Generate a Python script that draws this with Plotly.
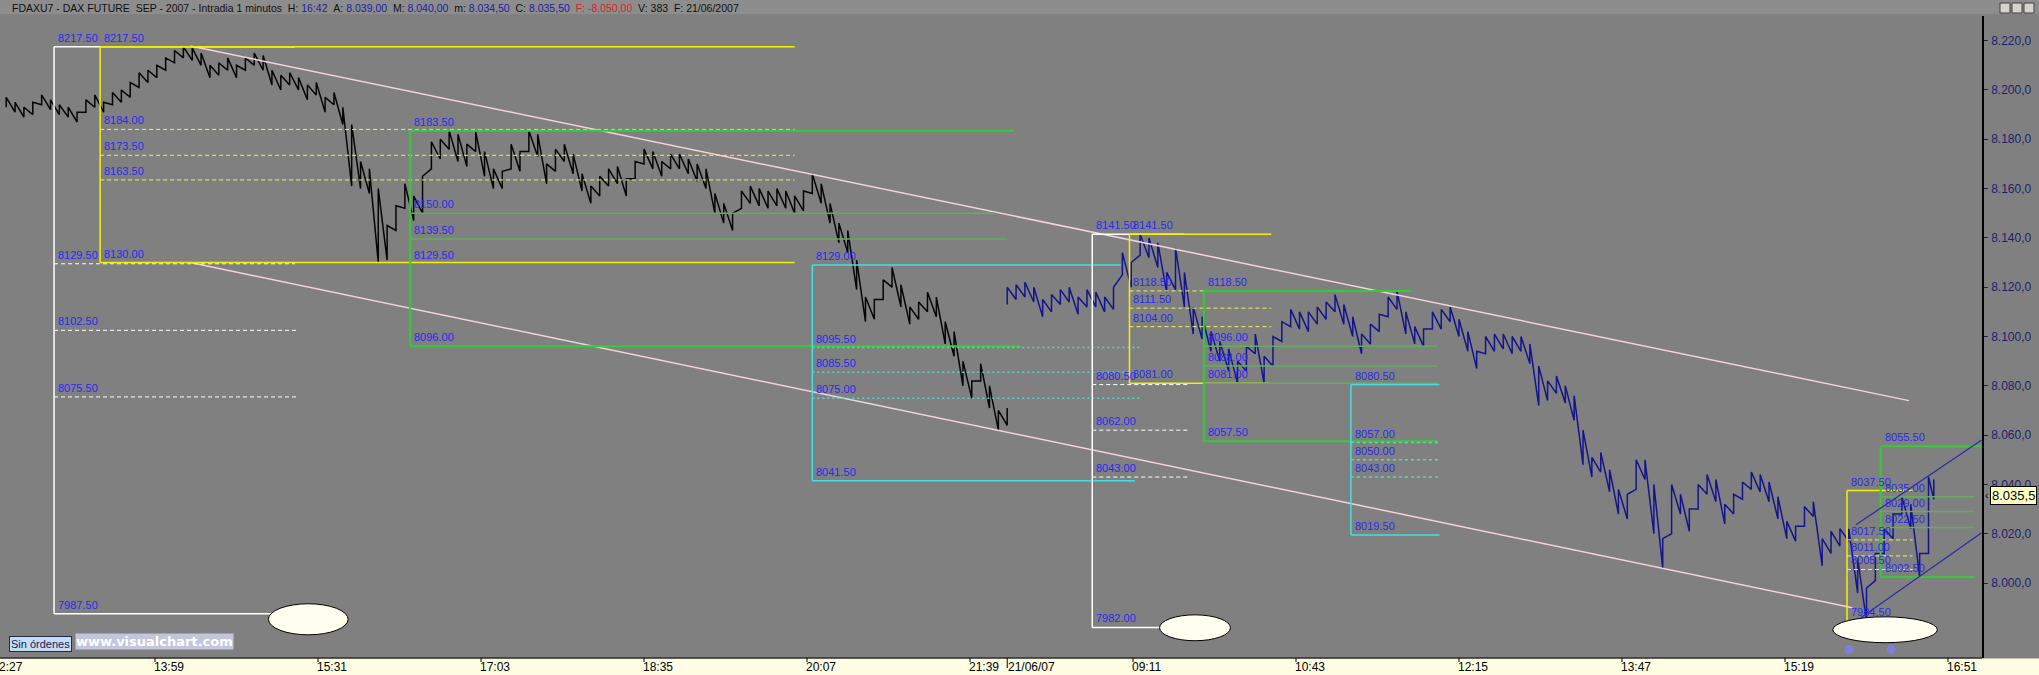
import plotly.graph_objects as go

# ---------------- data ----------------
# Day 1 (20/06/07) five-minute bars from 12:35 to 22:00
D1_LOW = [8193, 8191, 8189, 8190, 8194,
          8192, 8190, 8189, 8187, 8191, 8193, 8191, 8194, 8195, 8197, 8201, 8203,
          8205, 8208, 8211, 8213, 8212, 8210, 8205, 8206, 8208, 8205, 8208, 8210,
          8208, 8202, 8200, 8202, 8200, 8196, 8198, 8191, 8194, 8186, 8161, 8160,
          8158, 8130, 8131, 8143, 8152, 8147, 8150, 8168, 8172, 8176, 8171, 8169,
          8175, 8165, 8160, 8160, 8168, 8167, 8175, 8173, 8162, 8167, 8171, 8166,
          8159, 8154, 8157, 8161, 8162, 8157, 8164, 8170, 8168, 8165, 8168, 8168,
          8166, 8163, 8160, 8150, 8146, 8143, 8152, 8154, 8153, 8152, 8153, 8152,
          8150, 8151, 8158, 8154, 8146, 8138, 8134, 8119, 8106, 8107, 8115, 8120,
          8112, 8105, 8107, 8110, 8108, 8097, 8092, 8080, 8075, 8082, 8071, 8062,
          8064]
D1_HIGH = [8197, 8195, 8193, 8195, 8198,
           8196, 8194, 8193, 8191, 8196, 8198, 8195, 8199, 8200, 8203, 8207, 8208,
           8210, 8213, 8216, 8217.5, 8217, 8215, 8210, 8211, 8213, 8210, 8213, 8215,
           8214, 8208, 8206, 8207, 8205, 8202, 8203, 8197, 8199, 8193, 8186, 8171,
           8168, 8160, 8145, 8153, 8162, 8157, 8165, 8179, 8180, 8183.5, 8182, 8178,
           8183, 8175, 8168, 8167, 8178, 8175, 8183.5, 8182, 8170, 8176, 8178, 8174,
           8166, 8161, 8165, 8168, 8169, 8164, 8171, 8176, 8175, 8171, 8174, 8174,
           8172, 8170, 8168, 8158, 8154, 8150, 8159, 8161, 8160, 8159, 8160, 8159,
           8157, 8159, 8166, 8162, 8154, 8146, 8143, 8131, 8116, 8115, 8123, 8128,
           8121, 8112, 8114, 8118, 8116, 8106, 8102, 8090, 8082, 8089, 8080, 8070,
           8071]

# Day 2 (21/06/07) five-minute bars from 08:00 to 16:43
D2_LOW = [8113, 8115, 8116, 8114, 8108, 8110, 8113, 8114, 8109, 8112, 8112, 8110,
          8111, 8125, 8120, 8133, 8132, 8128, 8118, 8119, 8112, 8101, 8099, 8094,
          8090, 8086, 8081, 8086, 8093, 8081, 8088, 8098, 8104, 8103, 8102, 8105,
          8107, 8110, 8105, 8100, 8093, 8097, 8102, 8108, 8111, 8101, 8097, 8096,
          8103, 8103, 8106, 8100, 8094, 8087, 8093, 8094, 8095, 8093, 8094, 8089,
          8072, 8074, 8077, 8073, 8066, 8048, 8043, 8045, 8037, 8028, 8026, 8038,
          8042, 8020, 8006, 8020, 8028, 8021, 8030, 8036, 8033, 8024, 8028, 8034,
          8038, 8037, 8033, 8026, 8018, 8017, 8023, 8027, 8007, 8012, 8015, 8017,
          7996, 7984.5, 8001, 8012, 8018, 8028, 8022, 8002.5, 8012,
          8034]
D2_HIGH = [8120, 8121, 8122, 8120, 8115, 8117, 8119, 8120, 8116, 8119, 8118, 8116,
           8120, 8134, 8130, 8141.5, 8140, 8138, 8126, 8136, 8126, 8112, 8108, 8102,
           8098, 8095, 8090, 8096, 8101, 8092, 8100, 8106, 8111, 8110, 8110, 8112,
           8114, 8117, 8113, 8108, 8101, 8105, 8109, 8116, 8118.5, 8110, 8104, 8103,
           8110, 8111, 8112, 8107, 8102, 8094, 8100, 8101, 8101, 8100, 8100, 8097,
           8088, 8082, 8084, 8080, 8076, 8062, 8051, 8053, 8046, 8038, 8036, 8050,
           8050, 8040, 8018, 8040, 8036, 8030, 8040, 8044, 8042, 8032, 8036, 8041,
           8045, 8044, 8041, 8035, 8025, 8023, 8031, 8033, 8018, 8021, 8022, 8022,
           8010, 7998, 8012, 8022, 8028, 8035, 8032, 8012, 8043,
           8042]

X_TICK_LABELS = ["13:59", "15:31", "17:03", "18:35", "20:07", "21:39",
                 "09:11", "10:43", "12:15", "13:47", "15:19", "16:51"]
X_TICK_DAYS = [1, 1, 1, 1, 1, 1, 2, 2, 2, 2, 2, 2]
Y_TICKS = [8000, 8020, 8040, 8060, 8080, 8100, 8120, 8140, 8160, 8180, 8200, 8220]
Y_TICK_TEXT = ["8.000,0", "8.020,0", "8.040,0", "8.060,0", "8.080,0", "8.100,0",
               "8.120,0", "8.140,0", "8.160,0", "8.180,0", "8.200,0", "8.220,0"]
LAST_PRICE = 8035.5

# Level groups: (day, start time), levels, level end times
WB1_START = (1, "13:02"); WB1_LEVELS = [8217.5, 8129.5, 8102.5, 8075.5, 7987.5]
WB1_ENDS = [(1, "15:18"), (1, "15:18"), (1, "15:20"), (1, "15:20"), (1, "15:05")]
YB1_START = (1, "13:28"); YB1_LEVELS = [8217.5, 8184.0, 8173.5, 8163.5, 8130.0]
YB1_ENDS = [(1, "20:00")] * 5
GB1_START = (1, "16:23"); GB1_LEVELS = [8183.5, 8150.0, 8139.5, 8129.5, 8096.0]
GB1_ENDS = [(2, "08:04"), (1, "21:53"), (2, "08:00"), None, (2, "08:08")]
CB1_START = (1, "20:10"); CB1_LEVELS = [8129.0, 8095.5, 8085.5, 8075.0, 8041.5]
CB1_ENDS = [(2, "09:04"), (2, "09:15"), (2, "09:15"), (2, "09:15"), (2, "09:12")]
WB2_START = (2, "08:48"); WB2_LEVELS = [8141.5, 8080.5, 8062.0, 8043.0, 7982.0]
WB2_ENDS = [(2, "09:40"), (2, "09:43"), (2, "09:43"), (2, "09:43"), (2, "09:27")]
YB2_START = (2, "09:09"); YB2_LEVELS = [8141.5, 8118.5, 8111.5, 8104.0, 8081.0]
YB2_ENDS = [(2, "10:29")] * 4 + [(2, "10:28")]
GB2_START = (2, "09:51"); GB2_LEVELS = [8118.5, 8096.0, 8088.0, 8081.0, 8057.5]
GB2_ENDS = [(2, "11:48"), (2, "12:03"), (2, "12:03"), (2, "12:03"), (2, "12:03")]
CB2_START = (2, "11:14"); CB2_LEVELS = [8080.5, 8057.0, 8050.0, 8043.0, 8019.5]
CB2_ENDS = [(2, "12:04")] * 5
YB3_START = (2, "15:54"); YB3_LEVELS = [8037.5, 8017.5, 8011.0, 8005.5, 7984.5]
YB3_ENDS = [(2, "16:31")] * 5
GB3_START = (2, "16:13"); GB3_LEVELS = [8055.5, 8035.0, 8029.0, 8022.5, 8002.5]
GB3_ENDS = [(2, "17:10"), (2, "17:06"), (2, "17:06"), (2, "17:06"), (2, "17:06")]

# channel lines: (day, time, price) pairs
CHANNEL_UP = [(1, "14:19", 8217.8), (2, "16:29", 8074.0)]
CHANNEL_DN = [(1, "14:19", 8130.0), (2, "15:57", 7990.0)]
BLUE_UP = [(2, "15:59", 8023.6), (2, "17:10", 8058.0)]
BLUE_DN = [(2, "16:02", 7986.0), (2, "17:10", 8020.4)]
# ellipses: (day, t0, t1, p0, p1)
ELLIPSES = [(1, "15:03", "15:48", 7979.0, 7991.6),
            (2, "09:26", "10:06", 7976.6, 7987.1),
            (2, "15:46", "16:45", 7975.8, 7986.3)]

# ---------------- helpers ----------------
def tindex(day, hhmm):
    h, m = map(int, hhmm.split(":"))
    t = h * 60 + m
    return t - (13 * 60 + 59) if day == 1 else 481 + t - 8 * 60

def times(start, end, step=5):
    h0, m0 = map(int, start.split(":")); h1, m1 = map(int, end.split(":"))
    out = []
    t = h0 * 60 + m0
    while t <= h1 * 60 + m1:
        out.append("%02d:%02d" % (t // 60, t % 60)); t += step
    return out

D1_TIMES = times("12:35", "22:00")
D2_TIMES = times("08:00", "16:40") + ["16:43"]

W, H = 2039, 675
PL, PR, PT, PB = 0, 1982, 16, 658
PW, PH = PR - PL, PB - PT
def px(x):  # pixel -> paper
    return (x - PL) / PW
def py(y):
    return (PB - y) / PH

XMIN, XMAX = -87.5, 1031.2
YMIN, YMAX = 7969.6, 8230.0

fig = go.Figure()

def add_bars(day, tlist, lows, highs, color):
    xs, ys = [], []
    for t, lo, hi in zip(tlist, lows, highs):
        x = tindex(day, t)
        xs += [x, x]; ys += [lo, hi]
    fig.add_trace(go.Scatter(x=xs, y=ys, mode="lines", line=dict(color=color, width=1.5),
                             hoverinfo="skip", showlegend=False))

shapes = []
annots = []

def hline(p, start, end, color, width=1.5, dash="solid"):
    shapes.append(dict(type="line", xref="x", yref="y", x0=tindex(*start), x1=tindex(*end),
                       y0=p, y1=p, line=dict(color=color, width=width, dash=dash)))

def vline(start, p0, p1, color, width=1.5):
    x = tindex(*start)
    shapes.append(dict(type="line", xref="x", yref="y", x0=x, x1=x, y0=p0, y1=p1,
                       line=dict(color=color, width=width)))

LABEL_BLUE = "#2a2af2"
def label(start, p):
    annots.append(dict(x=tindex(*start), y=p, xref="x", yref="y", text="%.2f" % p,
                       showarrow=False, xanchor="left", yanchor="bottom", xshift=2, yshift=1,
                       font=dict(family="Liberation Sans, Arial", size=11, color=LABEL_BLUE)))

def group(start, levels, ends, color, mid_style, mid_color=None, mid_width=1, edge_width=1.5):
    vline(start, levels[0], levels[-1], color, edge_width)
    for i, (p, e) in enumerate(zip(levels, ends)):
        if e is not None:
            if i in (0, len(levels) - 1):
                hline(p, start, e, color, edge_width)
            else:
                hline(p, start, e, mid_color or color, mid_width, mid_style)
        label(start, p)

WHITE, YELLOW, GREEN, CYAN = "#ffffff", "#f2f200", "#33cc33", "#3fe0e6"
FAINT_GREEN = "#62ad62"

for seg in (CHANNEL_UP, CHANNEL_DN):
    (d0, t0, p0), (d1, t1, p1) = seg
    shapes.append(dict(type="line", xref="x", yref="y", x0=tindex(d0, t0), x1=tindex(d1, t1),
                       y0=p0, y1=p1, line=dict(color="#f3d3da", width=1.5)))

group(WB1_START, WB1_LEVELS, WB1_ENDS, WHITE, "4px,3px")
group(YB1_START, YB1_LEVELS, YB1_ENDS, YELLOW, "4px,3px", mid_color="#f0f060")
group(GB1_START, GB1_LEVELS, GB1_ENDS, GREEN, "solid", mid_color=FAINT_GREEN, mid_width=1.5, edge_width=2)
group(CB1_START, CB1_LEVELS, CB1_ENDS, CYAN, "2px,3px", mid_color="#55d8c4", mid_width=1.5)
group(WB2_START, WB2_LEVELS, WB2_ENDS, WHITE, "4px,3px")
group(YB2_START, YB2_LEVELS, YB2_ENDS, YELLOW, "4px,3px", mid_color="#f0f060")
group(GB2_START, GB2_LEVELS, GB2_ENDS, GREEN, "solid", mid_color=FAINT_GREEN, mid_width=1.5, edge_width=2)
group(CB2_START, CB2_LEVELS, CB2_ENDS, CYAN, "3px,3px", mid_color="#55d8c4", mid_width=1.5)
group(YB3_START, YB3_LEVELS, YB3_ENDS, YELLOW, "4px,3px", mid_color="#f0f060")
group(GB3_START, GB3_LEVELS, GB3_ENDS, GREEN, "solid", mid_color=FAINT_GREEN, mid_width=1.5, edge_width=2)

for seg in (BLUE_UP, BLUE_DN):
    (d0, t0, p0), (d1, t1, p1) = seg
    shapes.append(dict(type="line", xref="x", yref="y", x0=tindex(d0, t0), x1=tindex(d1, t1),
                       y0=p0, y1=p1, line=dict(color="#2a2aa8", width=1.2), layer="above"))

for d, t0, t1, p0, p1 in ELLIPSES:
    shapes.append(dict(type="circle", xref="x", yref="y", x0=tindex(d, t0), x1=tindex(d, t1),
                       y0=p0, y1=p1, fillcolor="#fffff0", line=dict(color="black", width=1),
                       layer="above"))

add_bars(1, D1_TIMES, D1_LOW, D1_HIGH, "#050505")
add_bars(2, D2_TIMES, D2_LOW, D2_HIGH, "#14148c")

fig.add_trace(go.Scatter(x=[tindex(2, "15:55"), tindex(2, "16:19")], y=[7973, 7973], mode="markers",
                         marker=dict(size=9, color="rgba(125,125,255,0.75)", line=dict(width=0)),
                         hoverinfo="skip", showlegend=False))

# ---------- chrome: title bar, x strip, ticks ----------
shapes.append(dict(type="rect", xref="paper", yref="paper", x0=px(0), x1=px(W), y0=py(PT), y1=py(0),
                   fillcolor="#8d8d8d", line=dict(width=0), layer="above"))
shapes.append(dict(type="line", xref="paper", yref="paper", x0=px(0), x1=px(W), y0=py(15), y1=py(15),
                   line=dict(color="#747474", width=1), layer="above"))
shapes.append(dict(type="rect", xref="paper", yref="paper", x0=px(0), x1=px(W), y0=py(H + 2), y1=py(658.6),
                   fillcolor="#fffee2", line=dict(width=0), layer="above"))
shapes.append(dict(type="line", xref="paper", yref="paper", x0=px(0), x1=px(PR), y0=0, y1=0,
                   line=dict(color="black", width=1.2), layer="above"))
for lab, d in zip(X_TICK_LABELS, X_TICK_DAYS):
    xt = tindex(d, lab)
    shapes.append(dict(type="line", xref="x", yref="paper", x0=xt, x1=xt, y0=0, y1=py(662),
                       line=dict(color="black", width=1), layer="above"))
shapes.append(dict(type="line", xref="x", yref="paper", x0=481, x1=481, y0=0, y1=py(668),
                   line=dict(color="black", width=1), layer="above"))
for bx in (2000, 2012, 2024):
    shapes.append(dict(type="rect", xref="paper", yref="paper", x0=px(bx), x1=px(bx + 10),
                       y0=py(13), y1=py(3), fillcolor="#d6d3cc", line=dict(color="#404040", width=1),
                       layer="above"))

XFONT = dict(family="Liberation Sans, Arial", size=12, color="black")
for lab, d in zip(X_TICK_LABELS, X_TICK_DAYS):
    annots.append(dict(x=tindex(d, lab), y=py(659), xref="x", yref="paper", text=lab, showarrow=False,
                       xanchor="left", yanchor="top", xshift=-2, borderpad=0, font=XFONT))
annots.append(dict(x=px(0), y=py(659), xref="paper", yref="paper", text="2:27", showarrow=False,
                   xanchor="left", yanchor="top", xshift=-2, borderpad=0, font=XFONT))
annots.append(dict(x=481, y=py(659), xref="x", yref="paper", text="21/06/07", showarrow=False,
                   xanchor="left", yanchor="top", xshift=0, borderpad=0, font=XFONT))

# title
B = "color:#1c1ca8"
sp = "\u00a0"
title = ("FDAXU7 - DAX FUTURE" + sp + sp + "SEP - 2007 - Intradia 1 minutos" + sp + sp
         + "H:" + sp + "<span style='%s'>16:42</span>" % B + sp + sp
         + "A:" + sp + "<span style='%s'>8.039,00</span>" % B + sp + sp
         + "M:" + sp + "<span style='%s'>8.040,00</span>" % B + sp + sp
         + "m:" + sp + "<span style='%s'>8.034,50</span>" % B + sp + sp
         + "C:" + sp + "<span style='%s'>8.035,50</span>" % B + sp + sp
         + "<span style='color:#e02020'>F:" + sp + "-8.050,00</span>" + sp + sp
         + "V:" + sp + "383" + sp + sp + "F:" + sp + "21/06/2007")
annots.append(dict(x=px(10), y=py(7.5), xref="paper", yref="paper", text=title, showarrow=False,
                   xanchor="left", yanchor="middle",
                   font=dict(family="Liberation Sans, Arial", size=10.5, color="#101010")))

annots.append(dict(x=px(9), y=py(644), xref="paper", yref="paper", text="Sin órdenes", showarrow=False,
                   xanchor="left", yanchor="middle", bgcolor="#c6dcf2", bordercolor="#1c2c50",
                   borderwidth=1, borderpad=1,
                   font=dict(family="Liberation Sans, Arial", size=11, color="#16165a")))
annots.append(dict(x=px(75), y=py(641), xref="paper", yref="paper", text="<b>www.visualchart.com</b>",
                   showarrow=False, xanchor="left", yanchor="middle", bgcolor="#c4c4dc", borderpad=0,
                   font=dict(family="DejaVu Sans, Verdana", size=13, color="#ffffff")))

annots.append(dict(x=px(1990), y=LAST_PRICE, xref="paper", yref="y", text="8.035,5", showarrow=False,
                   xanchor="left", yanchor="middle", bgcolor="#ffffc4", bordercolor="black",
                   borderwidth=1, borderpad=1,
                   font=dict(family="Liberation Sans, Arial", size=13, color="black")))
annots.append(dict(x=px(1983), y=LAST_PRICE, xref="paper", yref="y", text="‹", showarrow=False,
                   xanchor="left", yanchor="middle",
                   font=dict(family="Liberation Sans, Arial", size=10, color="black")))

fig.update_layout(
    width=W, height=H, autosize=False,
    margin=dict(l=PL, r=W - PR, t=PT, b=H - PB, pad=0),
    paper_bgcolor="#808080", plot_bgcolor="#808080",
    showlegend=False, shapes=shapes, annotations=annots,
    xaxis=dict(range=[XMIN, XMAX], showgrid=False, zeroline=False, showline=False,
               ticks="", showticklabels=False, fixedrange=True),
    yaxis=dict(range=[YMIN, YMAX], side="right", showgrid=False, zeroline=False, showline=True,
               linecolor="black", linewidth=1.5, ticks="outside", ticklen=4, tickcolor="#202050",
               tickvals=Y_TICKS, ticktext=Y_TICK_TEXT, ticklabelstandoff=1,
               tickfont=dict(family="Liberation Sans, Arial", size=12, color="#1e1e6e"),
               fixedrange=True),
)

fig.write_html("out.html", config={"displayModeBar": False},
               post_script="document.body.style.margin='0px';document.body.style.overflow='hidden';")
